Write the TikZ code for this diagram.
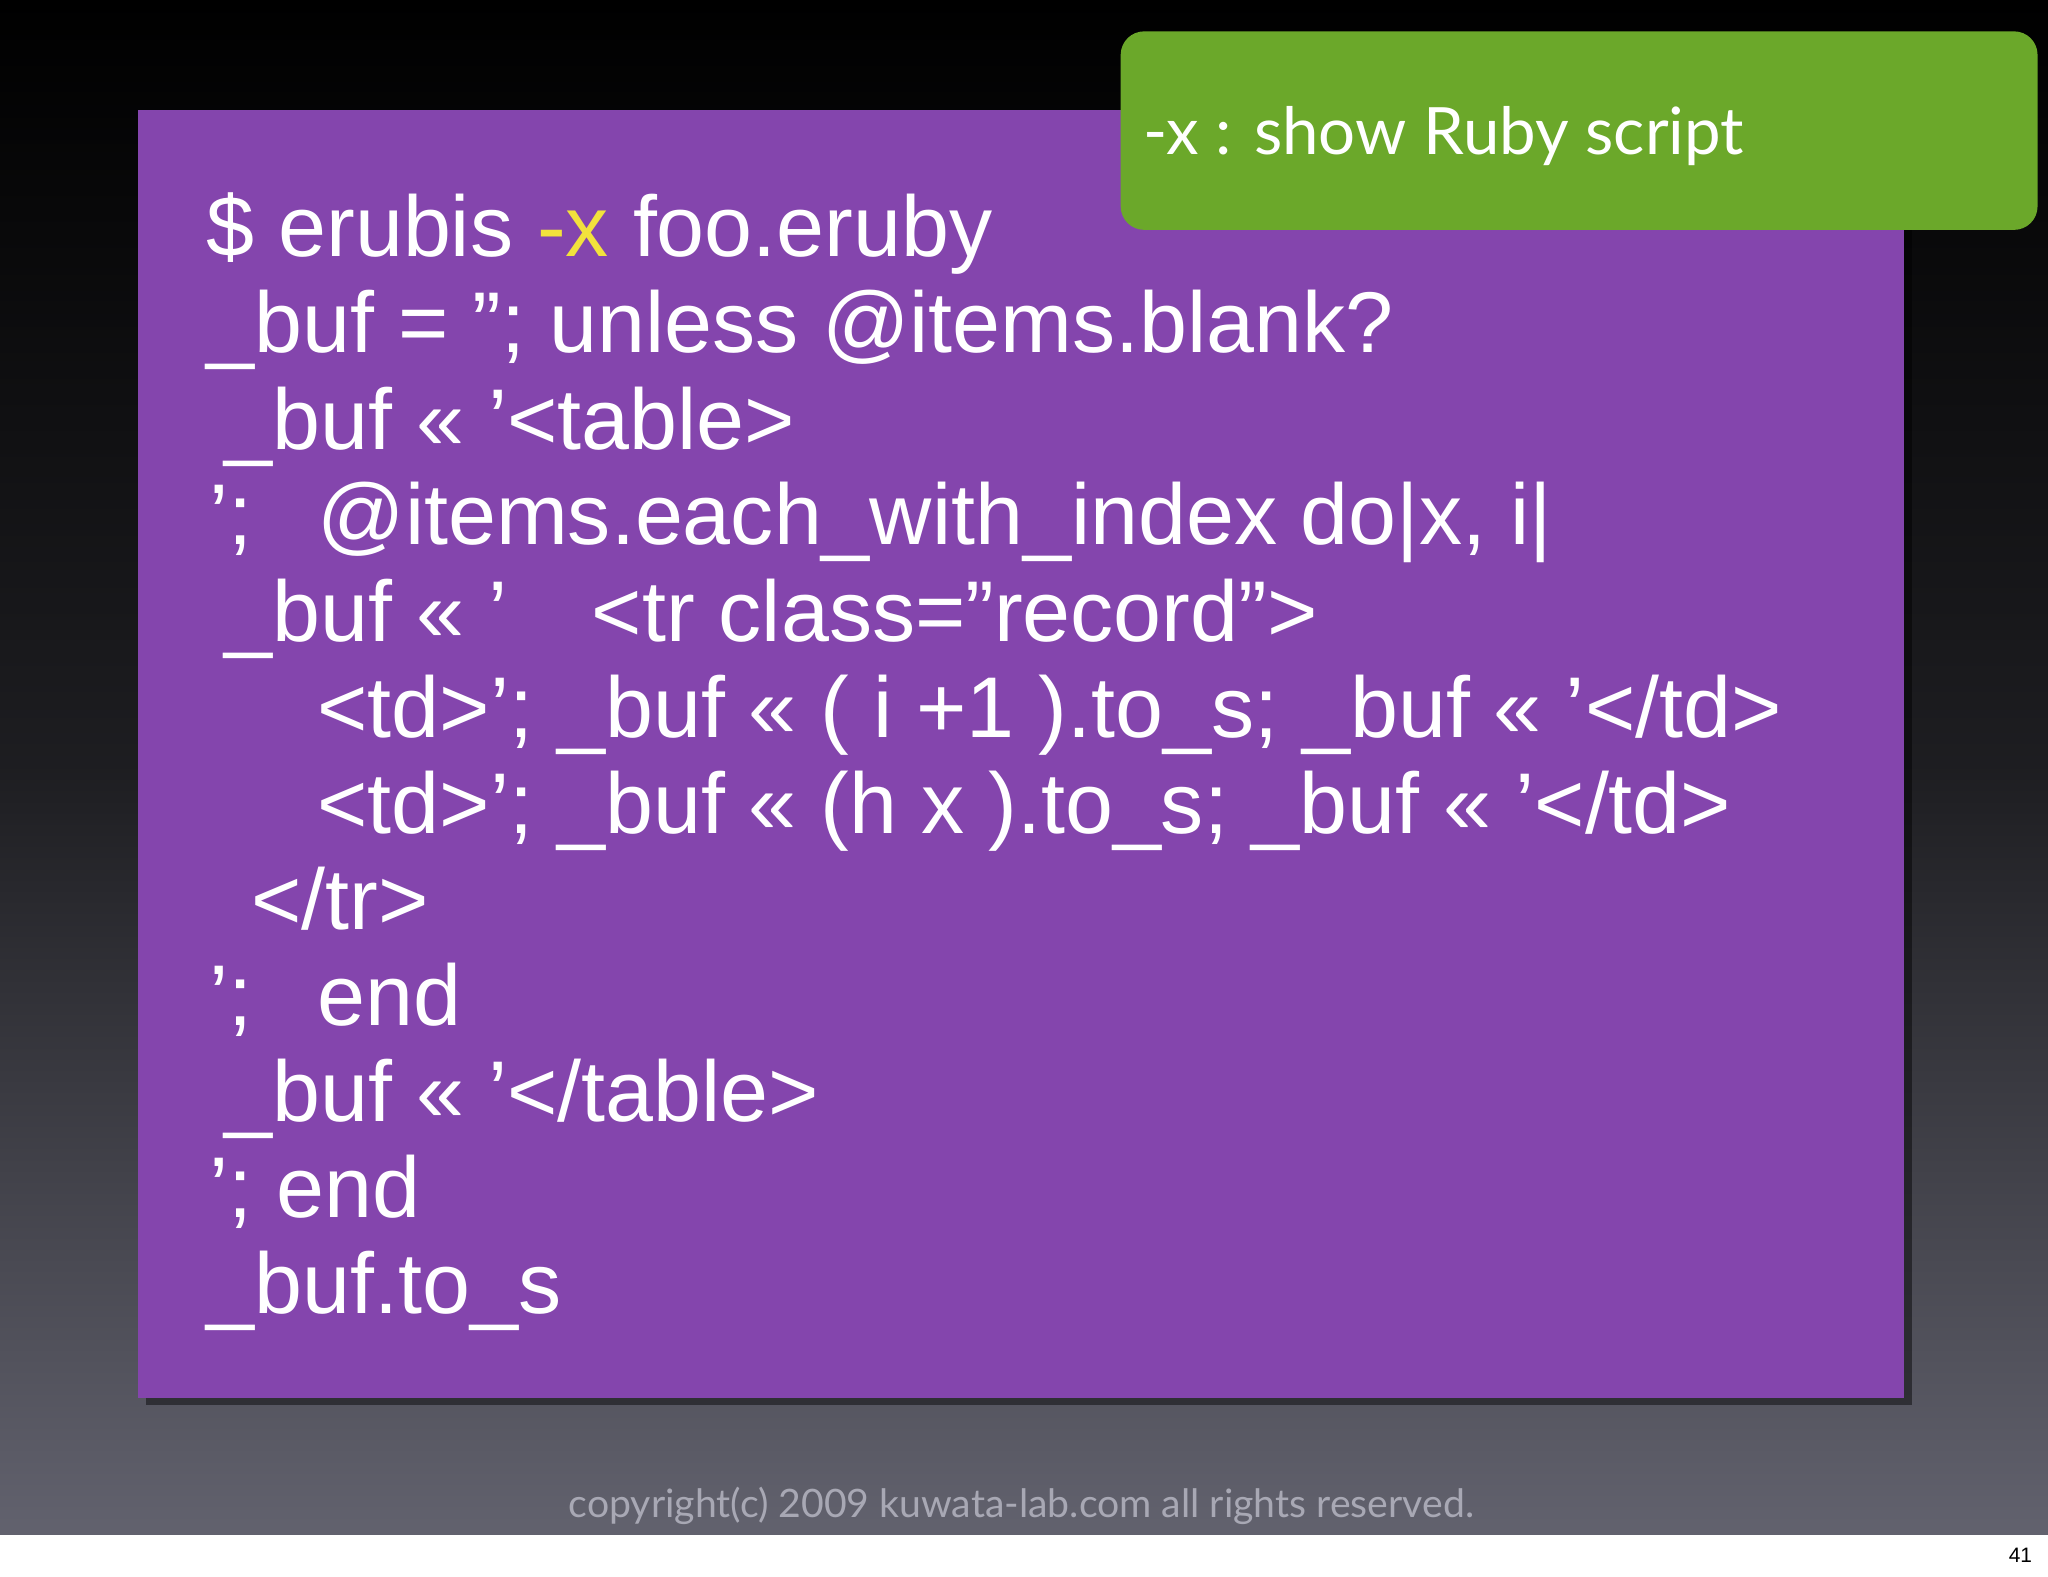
\documentclass[tikz,border=0pt]{standalone}
\usepackage{fontspec}
\setmainfont{Liberation Sans}
\newfontfamily\gill{Lato}
\definecolor{purp}{HTML}{8445AD}
\definecolor{grn}{HTML}{6BA82A}
\definecolor{ylw}{HTML}{F2E23C}
\definecolor{bgbot}{HTML}{62626E}
\definecolor{copyc}{HTML}{A8A8B4}
\begin{document}
\begin{tikzpicture}[x=1pt,y=-1pt,
  code/.style={anchor=base west,inner sep=0,text=white,font=\fontsize{66}{66}\selectfont},
  note/.style={anchor=base west,inner sep=0,text=white,font=\gill\fontsize{50}{50}\selectfont}]
\useasboundingbox (0,0) rectangle (1568,1207);
\fill[white] (0,0) rectangle (1568,1207);
\shade[top color=black,bottom color=bgbot,middle color=black!70!bgbot] (0,0) rectangle (1568,1175);
\fill[black,opacity=0.45] (112,90) rectangle (1464,1076);
\fill[purp] (106,84) rectangle (1458,1070);
\fill[grn,rounded corners=18] (858,24) rectangle (1560,176);
\node[note] (t) at (875,118) {-x : show Ruby script};
\node[code] (l1) at (158,196) {\$ erubis \textcolor{ylw}{-x} foo.eruby};
\node[code] (l2) at (158,270) {\_buf = ''; unless @items.blank?};
\node[code] (l3) at (172,344) {\_buf << '<table>};
\node[code] (l4a) at (160,417) {';};
\node[code] (l4b) at (243,417) {@items.each\_with\_index do|x, i|};
\node[code] (l5a) at (172,491) {\_buf << '};
\node[code] (l5b) at (453,491) {<tr class="record">};
\node[code] (l6) at (243,565) {<td>'; \_buf << ( i +1 ).to\_s; \_buf << '</td>};
\node[code] (l7) at (243,638) {<td>'; \_buf << (h x ).to\_s; \_buf << '</td>};
\node[code] (l8) at (192,712) {</tr>};
\node[code] (l9a) at (160,785) {';};
\node[code] (l9b) at (243,785) {end};
\node[code] (l10) at (172,859) {\_buf << '</table>};
\node[code] (l11) at (160,932) {'; end};
\node[code] (l12) at (158,1006) {\_buf.to\_s};
\node[anchor=base,inner sep=0,text=copyc,font=\gill\fontsize{30}{30}\selectfont] (c) at (782,1162) {copyright(c) 2009 kuwata-lab.com all rights reserved.};
\node[anchor=base east,inner sep=0,font=\fontsize{16}{16}\selectfont] (p) at (1556,1196) {41};
\end{tikzpicture}
\end{document}
